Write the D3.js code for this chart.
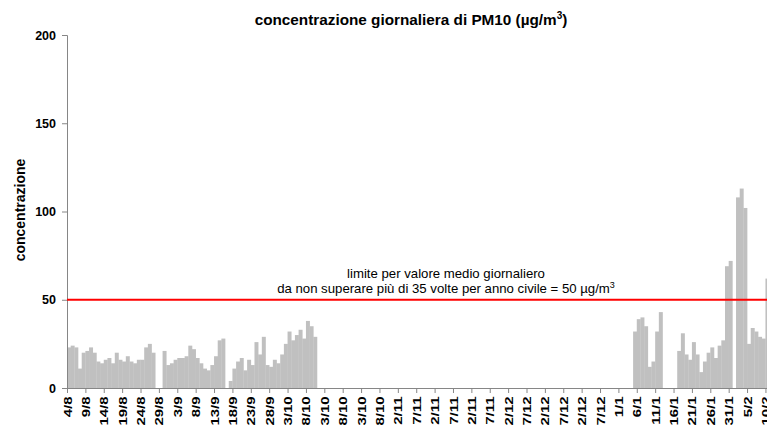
<!DOCTYPE html>
<html>
<head>
<meta charset="utf-8">
<script src="https://cdn.jsdelivr.net/npm/d3@7"></script>
<style>
body { margin: 0; background: #fff; }
svg { font-family: "Liberation Sans", Arial, sans-serif; display: block; }
</style>
</head>
<body>
<div class="pm-chart"></div>
<script>
// giorni dal 4/8 al 10/2, null = dato mancante
const pm10 = [
  23, 24, 23, 11, 20, 21, 23, 20, 15, 14,
  16, 17, 14, 20, 16, 15, 18, 15, 14, 16,
  16, 23, 25, 20, null, null, 21, 13, 14, 16,
  17, 17, 18, 24, 22, 17, 14, 11, 10, 13,
  18, 27, 28, null, 4, 11, 15, 17, 10, 16,
  13, 26, 19, 29, 13, 12, 16, 14, 19, 25,
  32, 27, 30, 33, 28, 38, 35, 29, null, null,
  null, null, null, null, null, null, null, null, null, null,
  null, null, null, null, null, null, null, null, null, null,
  null, null, null, null, null, null, null, null, null, null,
  null, null, null, null, null, null, null, null, null, null,
  null, null, null, null, null, null, null, null, null, null,
  null, null, null, null, null, null, null, null, null, null,
  null, null, null, null, null, null, null, null, null, null,
  null, null, null, null, null, null, null, null, null, null,
  null, null, null, null, 32, 39, 40, 35, 12, 15,
  32, 43, null, null, null, null, 21, 31, 19, 16,
  26, 19, 9, 15, 20, 23, 17, 24, 27, 69,
  72, null, 108, 113, 102, 25, 34, 32, 29, 28,
  62
];

const tickLabels = ['4/8','9/8','14/8','19/8','24/8','29/8','3/9','8/9','13/9','18/9',
  '23/9','28/9','3/10','8/10','13/10','18/10','23/10','28/10','2/11','7/11',
  '12/11','17/11','22/11','27/11','2/12','7/12','12/12','17/12','22/12','27/12',
  '1/1','6/1','11/1','16/1','21/1','26/1','31/1','5/2','10/2'];

const yTicks = [0, 50, 100, 150, 200];
const limite = 50;

const w = 767;
const h = 425;

const svg = d3.select('.pm-chart')
  .append('svg')
  .attr('width', w)
  .attr('height', h);

const x = d3.scaleLinear()
  .domain([0, pm10.length])
  .range([67, 67 + 3.676 * pm10.length]);

const y = d3.scaleLinear()
  .domain([0, 200])
  .range([388, 35]);

const days = pm10.map((v, i) => ({i: i, v: v})).filter(d => d.v != null);

svg.selectAll('rect.bar')
  .data(days)
  .enter()
  .append('rect')
  .attr('class', 'bar')
  .attr('x', d => x(d.i))
  .attr('width', d => x(d.i + 1) - x(d.i) + 0.3)
  .attr('y', d => y(d.v))
  .attr('height', d => y(0) - y(d.v))
  .attr('fill', '#c0c0c0');

// asse y
const yAxis = svg.append('g')
  .attr('transform', 'translate(67,0)')
  .call(d3.axisLeft(y).tickValues(yTicks).tickSize(5).tickPadding(6));
yAxis.selectAll('text')
  .attr('font-size', 12.5)
  .attr('font-weight', 'bold')
  .attr('font-family', '"Liberation Sans", Arial, sans-serif')
  .attr('fill', '#000');

// asse x
const xAxis = svg.append('g')
  .attr('transform', 'translate(0,388)')
  .call(d3.axisBottom(x)
    .tickValues(tickLabels.map((t, k) => k * 5))
    .tickFormat((d, k) => tickLabels[k])
    .tickSize(5)
    .tickSizeOuter(0));
xAxis.selectAll('text')
  .attr('font-size', 11.5)
  .attr('font-weight', 'bold')
  .attr('font-family', '"Liberation Sans", Arial, sans-serif')
  .attr('fill', '#000')
  .attr('text-anchor', 'end')
  .attr('transform', 'rotate(-90) scale(1.3,1)')
  .attr('x', -6.5)
  .attr('y', 0)
  .attr('dy', '0.35em');

svg.selectAll('.domain, .tick line').attr('stroke', '#868686');

// linea limite
svg.append('line')
  .attr('x1', x(0))
  .attr('x2', w)
  .attr('y1', y(limite))
  .attr('y2', y(limite))
  .attr('stroke', '#ff0000')
  .attr('stroke-width', 2);

const note = svg.append('text')
  .attr('text-anchor', 'middle')
  .attr('font-size', 13.2);
note.append('tspan').attr('x', 446).attr('y', 278).text('limite per valore medio giornaliero');
const l2 = note.append('tspan').attr('x', 446).attr('y', 293);
l2.append('tspan').text('da non superare più di 35 volte per anno civile = 50 µg/m');
l2.append('tspan').attr('font-size', 9).attr('dy', -5).text('3');

// titoli
const title = svg.append('text')
  .attr('x', 411)
  .attr('y', 25)
  .attr('text-anchor', 'middle')
  .attr('font-size', 15.3)
  .attr('font-weight', 'bold');
title.append('tspan').text('concentrazione giornaliera di PM10 (µg/m');
title.append('tspan').attr('font-size', 10).attr('dy', -6).text('3');
title.append('tspan').attr('dy', 6).text(')');

svg.append('text')
  .attr('transform', 'translate(25,210) rotate(-90)')
  .attr('text-anchor', 'middle')
  .attr('font-size', 14)
  .attr('font-weight', 'bold')
  .text('concentrazione');
</script>
</body>
</html>
